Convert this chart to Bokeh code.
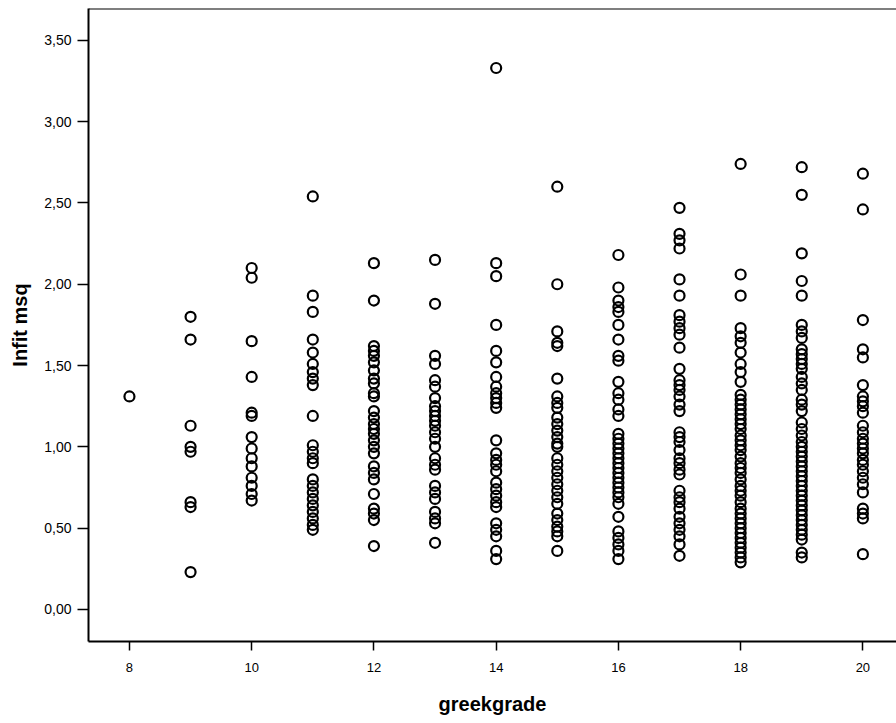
from bokeh.plotting import figure
from bokeh.models import FixedTicker, CustomJSTickFormatter, Span, Range1d, ColumnDataSource
from bokeh.embed import file_html
from bokeh.resources import INLINE

# ---- data (greekgrade -> Infit msq values) ----
g8 = [1.31]
g9 = [1.80, 1.66, 1.13, 1.00, 0.97, 0.66, 0.63, 0.23]
g10 = [2.10, 2.04, 1.65, 1.43, 1.21, 1.19, 1.06, 0.99, 0.93, 0.88, 0.81, 0.76, 0.71, 0.67]
g11 = [2.54, 1.93, 1.83, 1.66, 1.58, 1.51, 1.46, 1.42, 1.38, 1.19, 1.01, 0.97, 0.93, 0.90,
       0.80, 0.76, 0.72, 0.68, 0.64, 0.60, 0.56, 0.52, 0.49]
g12 = [2.13, 1.90, 1.62, 1.59, 1.56, 1.52, 1.47, 1.42, 1.39, 1.33, 1.31, 1.22, 1.18, 1.14,
       1.11, 1.08, 1.04, 1.00, 0.96, 0.88, 0.84, 0.80, 0.71, 0.62, 0.59, 0.55, 0.39]
g13 = [2.15, 1.88, 1.56, 1.51, 1.41, 1.37, 1.30, 1.25, 1.22, 1.19, 1.16, 1.13, 1.09, 1.05,
       1.00, 0.93, 0.89, 0.86, 0.76, 0.72, 0.68, 0.60, 0.56, 0.53, 0.41]
g14 = [3.33, 2.13, 2.05, 1.75, 1.59, 1.52, 1.43, 1.37, 1.33, 1.30, 1.27, 1.24, 1.04, 0.96,
       0.92, 0.89, 0.85, 0.78, 0.74, 0.70, 0.66, 0.63, 0.53, 0.49, 0.45, 0.36, 0.31]
g15 = [2.60, 2.00, 1.71, 1.64, 1.62, 1.42, 1.31, 1.27, 1.24, 1.18, 1.14, 1.10, 1.06, 1.02,
       1.00, 0.93, 0.89, 0.85, 0.81, 0.77, 0.73, 0.69, 0.65, 0.59, 0.55, 0.51, 0.48, 0.45, 0.36]
g16 = [2.18, 1.98, 1.90, 1.86, 1.83, 1.75, 1.66, 1.56, 1.53, 1.40, 1.33, 1.29, 1.23, 1.19,
       1.08, 1.05, 1.02, 0.99, 0.96, 0.93, 0.90, 0.87, 0.84, 0.81, 0.78, 0.75, 0.72, 0.69,
       0.65, 0.57, 0.48, 0.44, 0.40, 0.36, 0.31]
g17 = [2.47, 2.31, 2.27, 2.22, 2.03, 1.93, 1.81, 1.77, 1.73, 1.69, 1.61, 1.48, 1.41, 1.38,
       1.35, 1.31, 1.26, 1.22, 1.09, 1.06, 1.03, 0.98, 0.93, 0.90, 0.86, 0.83, 0.73, 0.69,
       0.66, 0.62, 0.57, 0.53, 0.49, 0.45, 0.40, 0.33]
g18 = [2.74, 2.06, 1.93, 1.73, 1.68, 1.64, 1.58, 1.51, 1.46, 1.40, 1.32, 1.29, 1.26, 1.23,
       1.20, 1.17, 1.14, 1.11, 1.07, 1.04, 1.01, 0.98, 0.94, 0.90, 0.87, 0.84, 0.80, 0.76,
       0.73, 0.70, 0.66, 0.62, 0.59, 0.56, 0.53, 0.50, 0.47, 0.44, 0.41, 0.38, 0.35, 0.32, 0.29]
g19 = [2.72, 2.55, 2.19, 2.02, 1.93, 1.75, 1.71, 1.67, 1.60, 1.57, 1.54, 1.51, 1.48, 1.43,
       1.39, 1.35, 1.29, 1.26, 1.22, 1.15, 1.11, 1.07, 1.03, 1.00, 0.97, 0.94, 0.91, 0.88,
       0.85, 0.82, 0.79, 0.76, 0.73, 0.70, 0.67, 0.64, 0.61, 0.58, 0.55, 0.52, 0.49, 0.46,
       0.43, 0.35, 0.32]
g20 = [2.68, 2.46, 1.78, 1.60, 1.55, 1.38, 1.31, 1.28, 1.25, 1.21, 1.13, 1.09, 1.05, 1.02,
       0.99, 0.96, 0.92, 0.89, 0.85, 0.81, 0.77, 0.72, 0.62, 0.59, 0.56, 0.34]

grades = [8, 9, 10, 11, 12, 13, 14, 15, 16, 17, 18, 19, 20]
values_by_grade = [g8, g9, g10, g11, g12, g13, g14, g15, g16, g17, g18, g19, g20]
x_ticks = [8, 10, 12, 14, 16, 18, 20]
y_ticks = [0.0, 0.5, 1.0, 1.5, 2.0, 2.5, 3.0, 3.5]

xs, ys = [], []
for g, vals in zip(grades, values_by_grade):
    for v in vals:
        xs.append(g)
        ys.append(v)
src = ColumnDataSource(data=dict(greekgrade=xs, infit=ys))

Y_TOP = 3.696
p = figure(width=896, height=723, output_backend="svg", toolbar_location=None,
           x_range=Range1d(7.33, 20.55), y_range=Range1d(-0.197, Y_TOP),
           min_border_left=88, min_border_right=0, min_border_top=8, min_border_bottom=82,
           background_fill_color="white", border_fill_color="white")
p.outline_line_color = None
p.grid.visible = False

p.scatter("greekgrade", "infit", source=src, marker="circle", size=10,
          fill_color=None, line_color="black", line_width=2.2)

# top frame line
p.add_layout(Span(location=Y_TOP, dimension="width", line_color="black", line_width=2))

fmt = CustomJSTickFormatter(code="return tick.toFixed(2).replace('.', ',');")

for ax in (p.xaxis[0], p.yaxis[0]):
    ax.axis_line_color = "black"
    ax.axis_line_width = 2
    ax.major_tick_line_color = "black"
    ax.major_tick_line_width = 1.5
    ax.major_tick_in = 0
    ax.minor_tick_line_color = None
    ax.major_label_text_font = "Liberation Sans"
    ax.major_label_text_color = "black"
    ax.axis_label_text_font = "Liberation Sans"
    ax.axis_label_text_font_style = "bold"
    ax.axis_label_text_font_size = "20px"
    ax.axis_label_text_color = "black"

p.xaxis[0].ticker = FixedTicker(ticks=x_ticks)
p.xaxis[0].axis_label = "greekgrade"
p.xaxis[0].major_label_text_font_size = "13px"
p.xaxis[0].major_tick_out = 9
p.xaxis[0].major_label_standoff = 12
p.xaxis[0].axis_label_standoff = 18

p.yaxis[0].ticker = FixedTicker(ticks=y_ticks)
p.yaxis[0].formatter = fmt
p.yaxis[0].axis_label = "Infit msq"
p.yaxis[0].major_label_text_font_size = "14px"
p.yaxis[0].major_tick_out = 11
p.yaxis[0].major_label_standoff = 6
p.yaxis[0].axis_label_standoff = 10

open("out.html", "w").write(file_html(p, INLINE))
